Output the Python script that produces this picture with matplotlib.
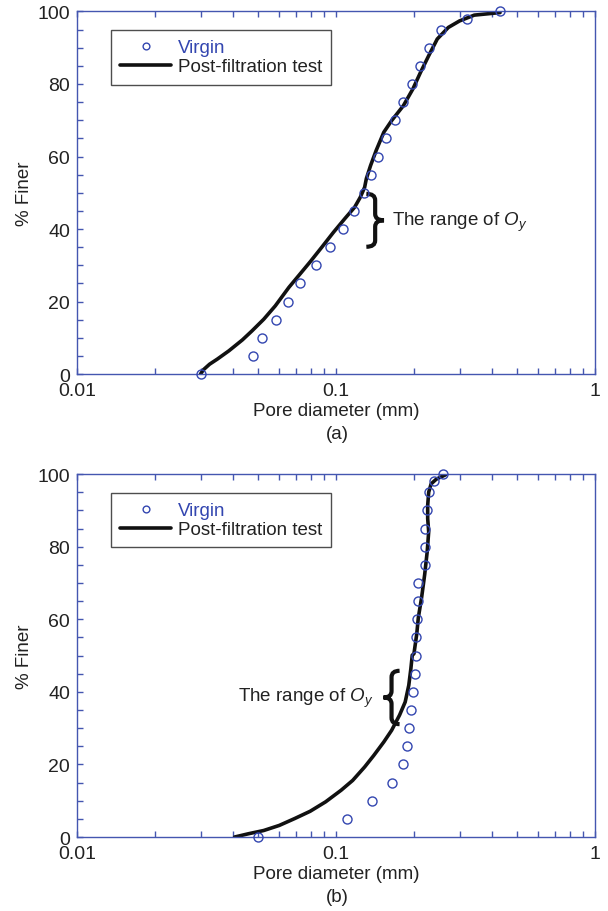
import numpy as np
import matplotlib
matplotlib.use('Agg')
import matplotlib.pyplot as plt
from matplotlib.path import Path
from matplotlib.patches import PathPatch
from matplotlib.ticker import LogLocator, MultipleLocator, FixedLocator, NullFormatter

plt.rcParams['font.family'] = ['Liberation Sans', 'DejaVu Sans']
plt.rcParams['mathtext.fontset'] = 'custom'
plt.rcParams['mathtext.rm'] = 'Liberation Sans'
plt.rcParams['mathtext.it'] = 'Liberation Sans:italic'

BLUE = '#3346b0'
SPINE = '#4456b0'
TXT = '#222222'

# (a) virgin sample
virgin_a_d = [0.030, 0.048, 0.052, 0.0587, 0.065, 0.0727, 0.0838, 0.0948, 0.106,
              0.117, 0.128, 0.136, 0.145, 0.156, 0.169, 0.182, 0.197, 0.211,
              0.229, 0.255, 0.320, 0.430]
virgin_a_p = [0, 5, 10, 15, 20, 25, 30, 35, 40, 45, 50, 55, 60, 65, 70, 75, 80, 85,
              90, 95, 98, 100]
# (a) post-filtration test
post_a_d = [0.030, 0.0308, 0.0325, 0.0348, 0.0386, 0.0435, 0.0474, 0.0526, 0.0583,
            0.0658, 0.0717, 0.0796, 0.0882, 0.0978, 0.108, 0.118, 0.124, 0.129,
            0.131, 0.136, 0.143, 0.153, 0.164, 0.182, 0.198, 0.212, 0.228, 0.246,
            0.2715, 0.300, 0.342, 0.430]
post_a_p = [0, 1.2, 2.7, 4.1, 6.4, 9.4, 11.9, 15.1, 18.8, 23.9, 27.1, 31.0, 35.0,
            39.1, 42.8, 46.0, 48.7, 51.5, 53.9, 57.5, 61.7, 66.7, 69.9, 74.0, 78.6,
            83.2, 87.8, 92.4, 95.6, 97.4, 99.0, 99.7]

# (b) virgin sample
virgin_b_d = [0.050, 0.110, 0.138, 0.164, 0.181, 0.188, 0.191, 0.195, 0.199, 0.201,
              0.203, 0.204, 0.206, 0.208, 0.208, 0.220, 0.220, 0.220, 0.224, 0.229,
              0.239, 0.259]
virgin_b_p = [0, 5, 10, 15, 20, 25, 30, 35, 40, 45, 50, 55, 60, 65, 70, 75, 80, 85,
              90, 95, 98, 100]
# (b) post-filtration test
post_b_d = [0.0406, 0.0459, 0.0526, 0.0604, 0.0693, 0.0795, 0.0912, 0.1047, 0.116,
            0.129, 0.140, 0.153, 0.164, 0.176, 0.185, 0.191, 0.1946, 0.197, 0.200,
            0.205, 0.208, 0.214, 0.220, 0.225, 0.228, 0.226, 0.226, 0.228, 0.233,
            0.244, 0.265]
post_b_p = [0, 0.9, 1.8, 3.2, 5.1, 7.1, 9.7, 12.9, 15.6, 19.3, 22.5, 26.2, 29.4,
            33.6, 37.2, 41.8, 46.4, 50.1, 50.5, 55.9, 60.5, 65.9, 72.3, 78.6, 84.1,
            87.7, 91.4, 95.0, 97.3, 98.6, 99.8]

# brace extents (diameter at hooks, % finer low/high)
brace_a = (0.131, 35.1, 49.7)
brace_b = (0.176, 31.1, 45.8)

fig = plt.figure(figsize=(6.08, 9.12), dpi=100)
ax1 = fig.add_axes([0.1266, 0.5888, 0.852, 0.3975])
ax2 = fig.add_axes([0.1266, 0.0811, 0.852, 0.398])


def style(ax):
    ax.set_xscale('log')
    ax.set_xlim(0.01, 1)
    ax.set_ylim(0, 100)
    for s in ax.spines.values():
        s.set_color(SPINE)
        s.set_linewidth(1.0)
    ax.xaxis.set_major_locator(FixedLocator([0.01, 0.1, 1]))
    ax.xaxis.set_minor_locator(LogLocator(base=10, subs=np.arange(2, 10)))
    ax.xaxis.set_minor_formatter(NullFormatter())
    ax.set_xticklabels(['0.01', '0.1', '1'])
    ax.yaxis.set_major_locator(MultipleLocator(20))
    ax.yaxis.set_minor_locator(MultipleLocator(5))
    ax.tick_params(which='both', direction='in', length=4, width=1.0, color=SPINE,
                   top=True, right=False, labelsize=14, labelcolor=TXT)
    ax.tick_params(axis='x', pad=6)
    ax.tick_params(axis='y', pad=5)
    ax.set_xlabel('Pore diameter (mm)', fontsize=13.5, color=TXT, labelpad=2)
    ax.set_ylabel('% Finer', fontsize=13.5, color=TXT, labelpad=3)


def brace(ax, d, lo, hi, width, sign):
    # curly brace drawn in axes fraction coords; sign=+1 -> '}', -1 -> '{'
    x0 = (np.log10(d) + 2) / 2
    y0, y1 = lo / 100, hi / 100
    ym = (y0 + y1) / 2
    h = y1 - y0
    xm = x0 + sign * width / 2
    xt = x0 + sign * width
    verts = [(x0, y1), (xm, y1), (xm, y1 - h * 0.12),
             (xm, ym + h * 0.12), (xm, ym), (xt, ym),
             (xm, ym), (xm, ym - h * 0.12),
             (xm, y0 + h * 0.12), (xm, y0), (x0, y0)]
    codes = [Path.MOVETO, Path.CURVE3, Path.CURVE3,
             Path.LINETO, Path.CURVE3, Path.CURVE3,
             Path.CURVE3, Path.CURVE3,
             Path.LINETO, Path.CURVE3, Path.CURVE3]
    ax.add_patch(PathPatch(Path(verts, codes), transform=ax.transAxes, fill=False,
                           lw=3.0, edgecolor='#111111', capstyle='butt'))


for ax, vd, vp, pd_, pp in [(ax1, virgin_a_d, virgin_a_p, post_a_d, post_a_p),
                            (ax2, virgin_b_d, virgin_b_p, post_b_d, post_b_p)]:
    style(ax)
    ax.plot(pd_, pp, color='#111111', lw=2.6, solid_capstyle='round',
            solid_joinstyle='round', label='Post-filtration test', zorder=2)
    ax.plot(vd, vp, 'o', mfc='none', mec=BLUE, mew=1.0, ms=6.5, label='Virgin',
            clip_on=False, zorder=3)
    h, l = ax.get_legend_handles_labels()
    leg = ax.legend(h[::-1], l[::-1], loc='upper left', bbox_to_anchor=(0.0656, 0.949),
                    fontsize=13.5, frameon=True, fancybox=False, handlelength=2.7,
                    handletextpad=0.35, borderpad=0.5, labelspacing=0.1,
                    borderaxespad=0, markerscale=0.75)
    leg.get_frame().set_edgecolor(TXT)
    leg.get_frame().set_linewidth(1.0)
    leg.get_texts()[0].set_color(BLUE)
    leg.get_texts()[1].set_color(TXT)

# annotations
brace(ax1, brace_a[0], brace_a[1], brace_a[2], 0.034, 1)
ax1.text(0.1644, 42.2, 'The range of $O_y$', fontsize=13.5, va='center', ha='left',
         color=TXT)
brace(ax2, brace_b[0], brace_b[1], brace_b[2], 0.031, -1)
ax2.text(0.140, 38.6, 'The range of $O_y$', fontsize=13.5, va='center', ha='right',
         color=TXT)

fig.text(0.555, 1 - 435 / 912, '(a)', fontsize=13.5, ha='center', va='center',
         color=TXT)
fig.text(0.555, 1 - 898 / 912, '(b)', fontsize=13.5, ha='center', va='center',
         color=TXT)

fig.savefig('out.png', dpi=100)
